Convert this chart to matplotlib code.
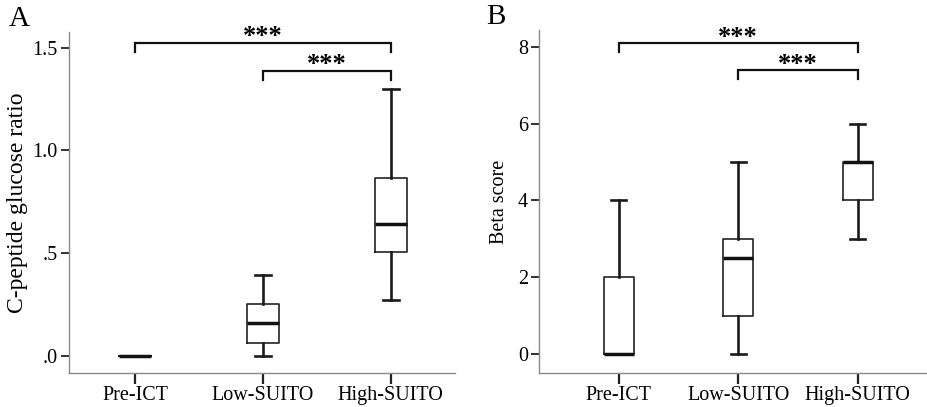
import matplotlib
matplotlib.use("Agg")
import matplotlib.pyplot as plt
from matplotlib import transforms

groups = ["Pre-ICT", "Low-SUITO", "High-SUITO"]

# Panel A: C-peptide glucose ratio (whislo, q1, med, q3, whishi)
a_whislo = [0.0, 0.0, 0.271]
a_q1 = [0.0, 0.063, 0.502]
a_med = [0.0, 0.158, 0.641]
a_q3 = [0.0, 0.252, 0.867]
a_whishi = [0.0, 0.392, 1.298]
a_yticks = [0.0, 0.5, 1.0, 1.5]
a_yticklabels = [".0", ".5", "1.0", "1.5"]

# Panel B: Beta score
b_whislo = [0, 0, 3]
b_q1 = [0, 1, 4]
b_med = [0, 2.5, 5]
b_q3 = [2, 3, 5]
b_whishi = [4, 5, 6]
b_yticks = [0, 2, 4, 6, 8]
b_yticklabels = ["0", "2", "4", "6", "8"]

# significance brackets: (from group, to group, level)
a_brackets = [(0, 2, 1.524, "***"), (1, 2, 1.388, "***")]
b_brackets = [(0, 2, 8.09, "***"), (1, 2, 7.39, "***")]

plt.rcParams['font.family'] = ['Liberation Serif', 'DejaVu Serif']

fig = plt.figure(figsize=(9.27, 4.07), dpi=100)
axA = fig.add_axes([0.0744, 0.0835, 0.4166, 0.8375])
axB = fig.add_axes([0.5814, 0.0843, 0.4186, 0.8417])


def make_stats(lo, q1, med, q3, hi):
    return [dict(whislo=lo[i], q1=q1[i], med=med[i], q3=q3[i], whishi=hi[i], fliers=[], label=groups[i])
            for i in range(len(groups))]


def draw(ax, stats, yticks, yticklabels, ylim, xlim, ylabel, ylabsize, labpad, brackets, drop, letter, letx):
    ax.bxp(stats, positions=range(len(groups)), widths=0.25, showfliers=False,
           boxprops=dict(color='#222222', linewidth=1.2),
           whiskerprops=dict(color='#1a1a1a', linewidth=1.9),
           capprops=dict(color='#1a1a1a', linewidth=1.9),
           medianprops=dict(color='#111111', linewidth=2.5, solid_capstyle='butt'))
    ax.set_xlim(*xlim)
    ax.set_ylim(*ylim)
    ax.set_yticks(yticks)
    ax.set_yticklabels(yticklabels, fontsize=14.5)
    ax.set_xticks(range(len(groups)))
    ax.set_xticklabels(groups, fontsize=14.5)
    ax.tick_params(axis='x', length=8, width=1.6, color='#222222', pad=1.5)
    ax.tick_params(axis='y', length=6, width=1.3, color='#222222', pad=2)
    for s in ['top', 'right']:
        ax.spines[s].set_visible(False)
    for s in ['left', 'bottom']:
        ax.spines[s].set_color('#8a8a8a')
        ax.spines[s].set_linewidth(1.0)
    ax.set_ylabel(ylabel, fontsize=ylabsize, labelpad=labpad)
    shift = transforms.offset_copy(ax.transData, fig=fig, x=0, y=-4, units='points')
    for x0, x1, y, txt in brackets:
        ax.plot([x0, x0, x1, x1], [y - drop, y, y, y - drop], color='#111111', linewidth=1.6,
                solid_joinstyle='miter', clip_on=False)
        ax.text((x0 + x1) / 2, y, txt, ha='center', va='bottom', fontsize=19, fontweight='bold',
                transform=shift)
    ax.text(letx, 1.0, letter, transform=ax.transAxes, fontsize=21, ha='left', va='bottom')


draw(axA, make_stats(a_whislo, a_q1, a_med, a_q3, a_whishi), a_yticks, a_yticklabels,
     (-0.085, 1.575), (-0.516, 2.504), "C-peptide glucose ratio", 17, 3, a_brackets, 0.045, 'A', -0.155)
draw(axB, make_stats(b_whislo, b_q1, b_med, b_q3, b_whishi), b_yticks, b_yticklabels,
     (-0.478, 8.43), (-0.668, 2.58), "Beta score", 14.5, 6, b_brackets, 0.24, 'B', -0.135)

fig.savefig("out.png", dpi=100)
